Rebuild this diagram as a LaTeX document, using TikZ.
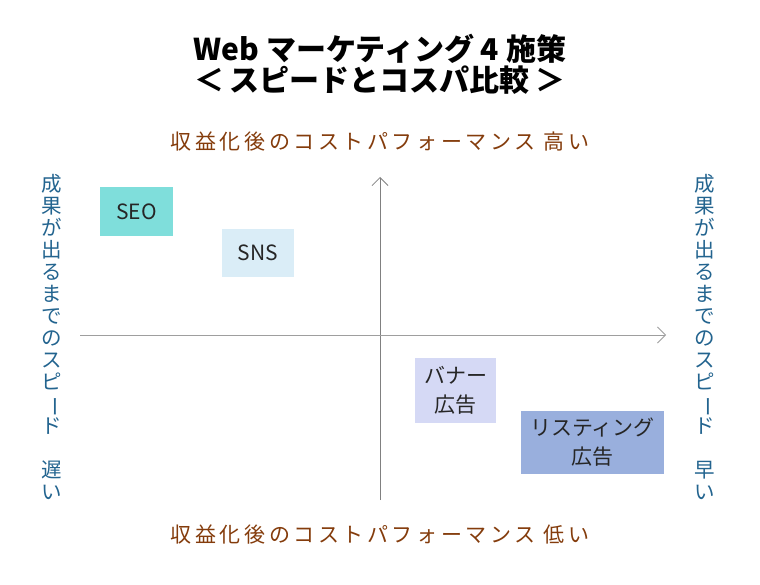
\documentclass[tikz,border=0pt]{standalone}
\usepackage{fontspec}
\setmainfont{Noto Sans CJK JP}
\newfontfamily\jpaxis[LetterSpace=17]{Noto Sans CJK JP}
\usetikzlibrary{arrows.meta}
\definecolor{brownlbl}{HTML}{843C0C}
\definecolor{bluelbl}{HTML}{23648F}
\definecolor{seoc}{HTML}{7FDEDB}
\definecolor{snsc}{HTML}{DAEDF7}
\definecolor{bannerc}{HTML}{D5D9F5}
\definecolor{listc}{HTML}{99AFDD}
\newcommand\vbar{\rotatebox[origin=c]{-90}{ー}}
\tikzset{
  box/.style={inner sep=0pt, align=center, text=black!85, font=\fontsize{21}{29}\selectfont},
  axlbl/.style={text=brownlbl, font=\jpaxis\fontsize{21}{24}\selectfont, inner sep=0pt},
  vlbl/.style={text=bluelbl, align=center, font=\fontsize{20.5}{22}\selectfont, inner sep=0pt},
  axisline/.style={line width=1pt, -{Straight Barb[length=8pt,width=16pt,line width=0.8pt]}},
}
\begin{document}
\begin{tikzpicture}[x=1pt,y=-1pt]
\useasboundingbox (0,0) rectangle (760,585);
% title
\node (title) at (380,64) [align=center, inner sep=0pt, font=\bfseries\fontsize{30}{31}\selectfont]
  {Web マーケティング 4 施策\\＜\hspace{6pt}スピードとコスパ比較\hspace{6pt}＞};
% axis labels
\node[axlbl] (top) at (380,142) {収益化後のコストパフォーマンス 高い};
\node[axlbl] (bottom) at (380,535) {収益化後のコストパフォーマンス 低い};
\node[vlbl] (left) at (52,337) {成\\果\\が\\出\\る\\ま\\で\\の\\ス\\ピ\\\vbar\\ド\\ \\遅\\い};
\node[vlbl] (right) at (705,337) {成\\果\\が\\出\\る\\ま\\で\\の\\ス\\ピ\\\vbar\\ド\\ \\早\\い};
% axes
\coordinate (vb) at (380,500);
\coordinate (vt) at (380,177);
\coordinate (hl) at (80,335);
\coordinate (hr) at (666,335);
\draw[axisline, draw=black!50] (vb) -- (vt);
\draw[axisline, draw=black!38] (hl) -- (hr);
% boxes
\node[box, fill=seoc, minimum width=73pt, minimum height=49pt] (seo) at (136.5,211.5) {SEO};
\node[box, fill=snsc, minimum width=72pt, minimum height=48pt] (sns) at (258,253) {SNS};
\node[box, fill=bannerc, minimum width=81pt, minimum height=65pt] (banner) at (455.5,390.5) {バナー\\広告};
\node[box, fill=listc, minimum width=143pt, minimum height=63pt] (listing) at (592.5,442.5) {リスティング\\広告};
\end{tikzpicture}
\end{document}
